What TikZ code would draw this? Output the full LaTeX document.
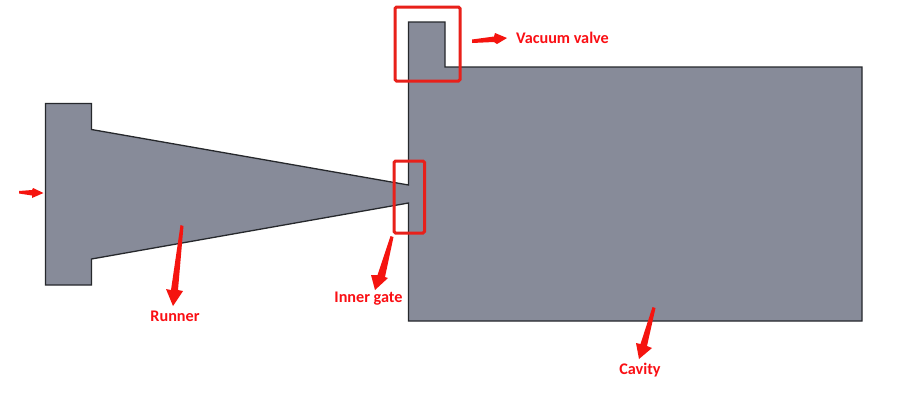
\documentclass[tikz,border=0pt]{standalone}
\usepackage{fontspec}
\setmainfont{Carlito}
\definecolor{partfill}{HTML}{878B99}
\definecolor{partline}{HTML}{26282C}
\definecolor{markred}{HTML}{E8201A}
\definecolor{arrowred}{HTML}{F5140F}
\definecolor{textred}{HTML}{FA0F14}
\tikzset{
  part/.style={fill=partfill,draw=partline,line width=1.3pt,line join=miter},
  markbox/.style={draw=markred,line width=3pt,rounded corners=1.5pt},
  pointer/.style={fill=arrowred,draw=none},
  tag/.style={text=textred,font=\fontsize{16.2}{18}\selectfont\bfseries,inner sep=0pt,anchor=center}
}
\begin{document}
\begin{tikzpicture}[x=1pt,y=-1pt]
\useasboundingbox (0,0) rectangle (900,400);
\fill[white] (0,0) rectangle (900,400);
\draw[part] (45.5,103.5) -- (91.5,103.5) -- (91.5,129.5) -- (408.5,185) -- (408.5,22) -- (445,22) -- (445,67) -- (862,67) -- (862,321) -- (408.5,321) -- (408.5,203) -- (91.5,259) -- (91.5,285) -- (45.5,285) -- cycle;
\fill[partfill] (400,186) rectangle (411,202);
\draw[markbox] (395,7) rectangle (460,81);
\draw[markbox] (394,161) rectangle (424.5,233);
% arrows
\fill[pointer] (472,39.5) -- (494,36.5) -- (495,33) -- (507,38) -- (497,44) -- (494,42) -- (472,43) -- cycle;
\fill[pointer] (19,191) -- (32,190) -- (33,188) -- (43.5,193) -- (32,198) -- (32,195.5) -- (19,193.5) -- cycle;
\fill[pointer] (180.5,225) -- (183.5,226) -- (178,290) -- (183,291) -- (173,306) -- (166,289) -- (171,290) -- cycle;
\fill[pointer] (390.5,236) -- (393.5,237) -- (385,277) -- (388,278) -- (375,290) -- (371,275) -- (377.5,275) -- cycle;
\fill[pointer] (652.5,307) -- (655.5,308) -- (647,346) -- (652,348) -- (639,359) -- (636,343) -- (640.5,344) -- cycle;
% labels
\node[tag] (vac) at (562.5,37.5) {Vacuum valve};
\node[tag] (gate) at (368.5,299) {Inner gate};
\node[tag] (run) at (175,316.5) {Runner};
\node[tag] (cav) at (640,370.5) {Cavity};
\end{tikzpicture}
\end{document}
